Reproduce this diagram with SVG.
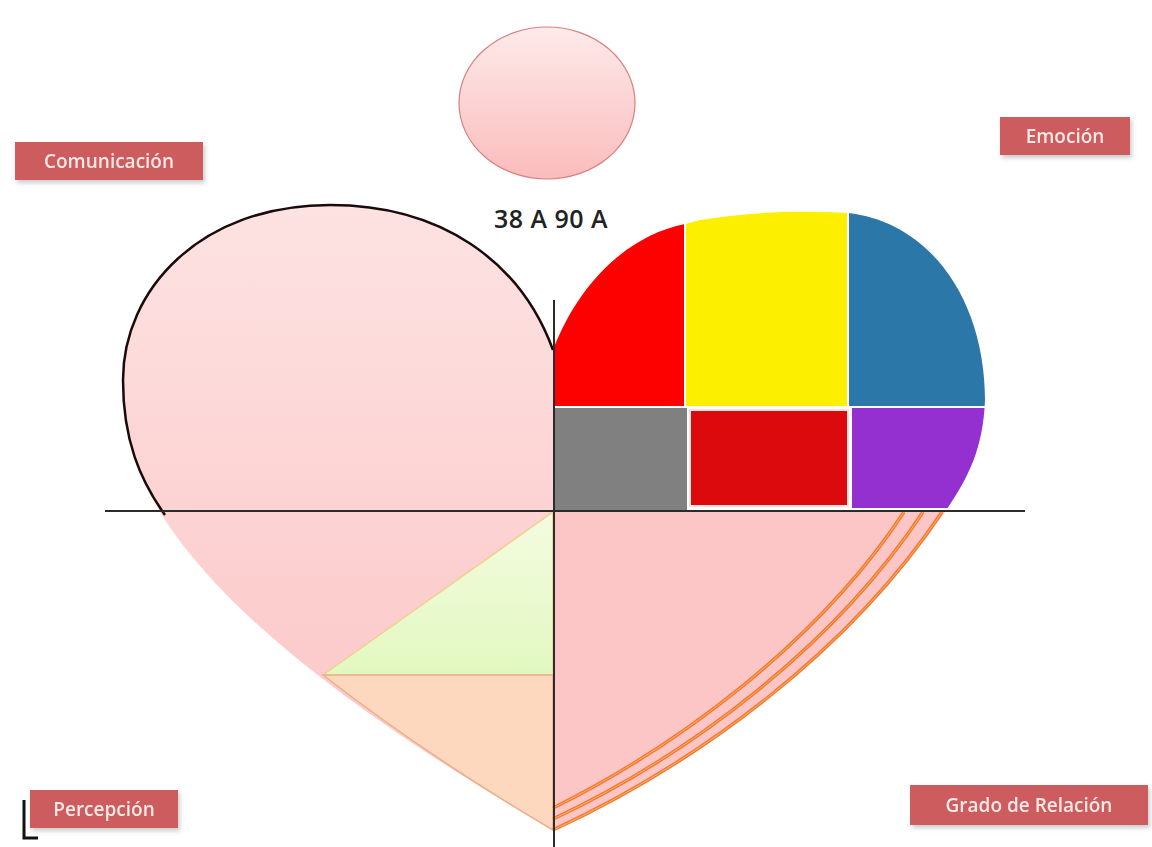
<svg xmlns="http://www.w3.org/2000/svg" width="1152" height="847" viewBox="0 0 1152 847">
<style>
.lbl rect.b{fill:#cc5b5d}
.lbl text{font-family:"Open Sans","Liberation Sans",sans-serif;font-size:19px;font-weight:600;fill:#fde8e6;text-anchor:middle}
.axis{stroke:#2b2b2b;stroke-width:2;fill:none}
.arc{fill:none;stroke:#f07a2e;stroke-width:3.5}
.arcin{fill:none;stroke:#ffb070;stroke-width:1}
</style>
<defs>
<linearGradient id="pinkG" x1="0" y1="0" x2="0" y2="1">
<stop offset="0" stop-color="#fde2e2"/><stop offset="1" stop-color="#fcc3c3"/>
</linearGradient>
<linearGradient id="circG" x1="0" y1="0" x2="0" y2="1">
<stop offset="0" stop-color="#fdeaea"/><stop offset="1" stop-color="#fbbcbc"/>
</linearGradient>
<linearGradient id="greenG" x1="0" y1="0" x2="0" y2="1">
<stop offset="0" stop-color="#f4fbe0"/><stop offset="1" stop-color="#e2f8c0"/>
</linearGradient>
<clipPath id="rightClip">
<path d="M553,350 C580,280 630,235 685,224 L700,220 C750,212 800,210 848,213 C930,222 985,300 985,400 C983,450 968,478 945,512 L553,512 Z"/>
</clipPath>
<filter id="sh" x="-10%" y="-20%" width="120%" height="150%">
<feDropShadow dx="2" dy="3" stdDeviation="2" flood-color="#999" flood-opacity="0.5"/>
</filter>
</defs>

<g id="circle">
<ellipse cx="547" cy="103" rx="88" ry="76" fill="url(#circG)" stroke="#d88080" stroke-width="1.2"/>
</g>

<g id="heart-left">
<path d="M553,350 C520,260 440,205 330,205 C200,205 123,290 123,380 C123,440 140,480 165,520 C250,650 450,770 553,830 Z" fill="url(#pinkG)"/>
<path d="M553,350 C520,260 440,205 330,205 C200,205 123,290 123,380 C123,440 140,480 165,515" fill="none" stroke="#1a0a0a" stroke-width="2.5"/>
</g>

<g id="green-triangle">
<path d="M553,512 L553,675 L323,675 Z" fill="url(#greenG)" stroke="#f0d090" stroke-width="1.5"/>
</g>
<g id="peach">
<path d="M323,675 L553,675 L553,830 C480,787 400,735 323,675 Z" fill="#fdd8bf" stroke="#e8b088" stroke-width="1.5"/>
</g>

<g id="heart-right-bottom">
<path d="M553,512 L945,512 C850,650 700,760 553,830 Z" fill="#fdc6c6"/>
</g>

<g id="cells" clip-path="url(#rightClip)">
<rect x="553" y="200" width="131" height="206" fill="#fd0000"/>
<rect x="686" y="200" width="161" height="206" fill="#fdef00"/>
<rect x="849" y="200" width="140" height="206" fill="#2b78a8"/>
<rect x="553" y="408" width="134" height="102" fill="#808080"/>
<rect x="690" y="410" width="158" height="96" fill="#dc0a0c" stroke="#fbe0e0" stroke-width="2"/>
<rect x="852" y="408" width="140" height="100" fill="#9530d0"/>
</g>

<g id="arcs">
<path class="arc" d="M904,512 C820,640 680,745 553,808"/>
<path class="arc" d="M923,512 C835,645 690,755 553,819"/>
<path class="arc" d="M942,512 C850,650 700,762 553,830"/>
<path class="arcin" d="M904,512 C820,640 680,745 553,808"/>
<path class="arcin" d="M923,512 C835,645 690,755 553,819"/>
<path class="arcin" d="M942,512 C850,650 700,762 553,830"/>
</g>

<g id="axes">
<line class="axis" x1="105" y1="511" x2="1025" y2="511"/>
<line class="axis" x1="554" y1="300" x2="554" y2="847"/>
</g>

<g id="title">
<text x="551" y="228" font-family="Open Sans, Liberation Sans, sans-serif" font-size="25" font-weight="600" letter-spacing="0.5" fill="#222" text-anchor="middle">38 A 90 A</text>
</g>

<g id="lbl-comunicacion" class="lbl" filter="url(#sh)">
<rect class="b" x="15" y="142" width="188" height="38"/>
<text x="109" y="168">Comunicación</text>
</g>
<g id="lbl-emocion" class="lbl" filter="url(#sh)">
<rect class="b" x="1000" y="117" width="130" height="38"/>
<text x="1065" y="143">Emoción</text>
</g>
<g id="lbl-percepcion" class="lbl" filter="url(#sh)">
<rect class="b" x="30" y="790" width="148" height="38"/>
<text x="104" y="816">Percepción</text>
</g>
<g id="bracket">
<path d="M24,800 L24,838 L38,838" fill="none" stroke="#111" stroke-width="3"/>
</g>
<g id="lbl-grado" class="lbl" filter="url(#sh)">
<rect class="b" x="910" y="785" width="238" height="40"/>
<text x="1029" y="812">Grado de Relación</text>
</g>
</svg>
